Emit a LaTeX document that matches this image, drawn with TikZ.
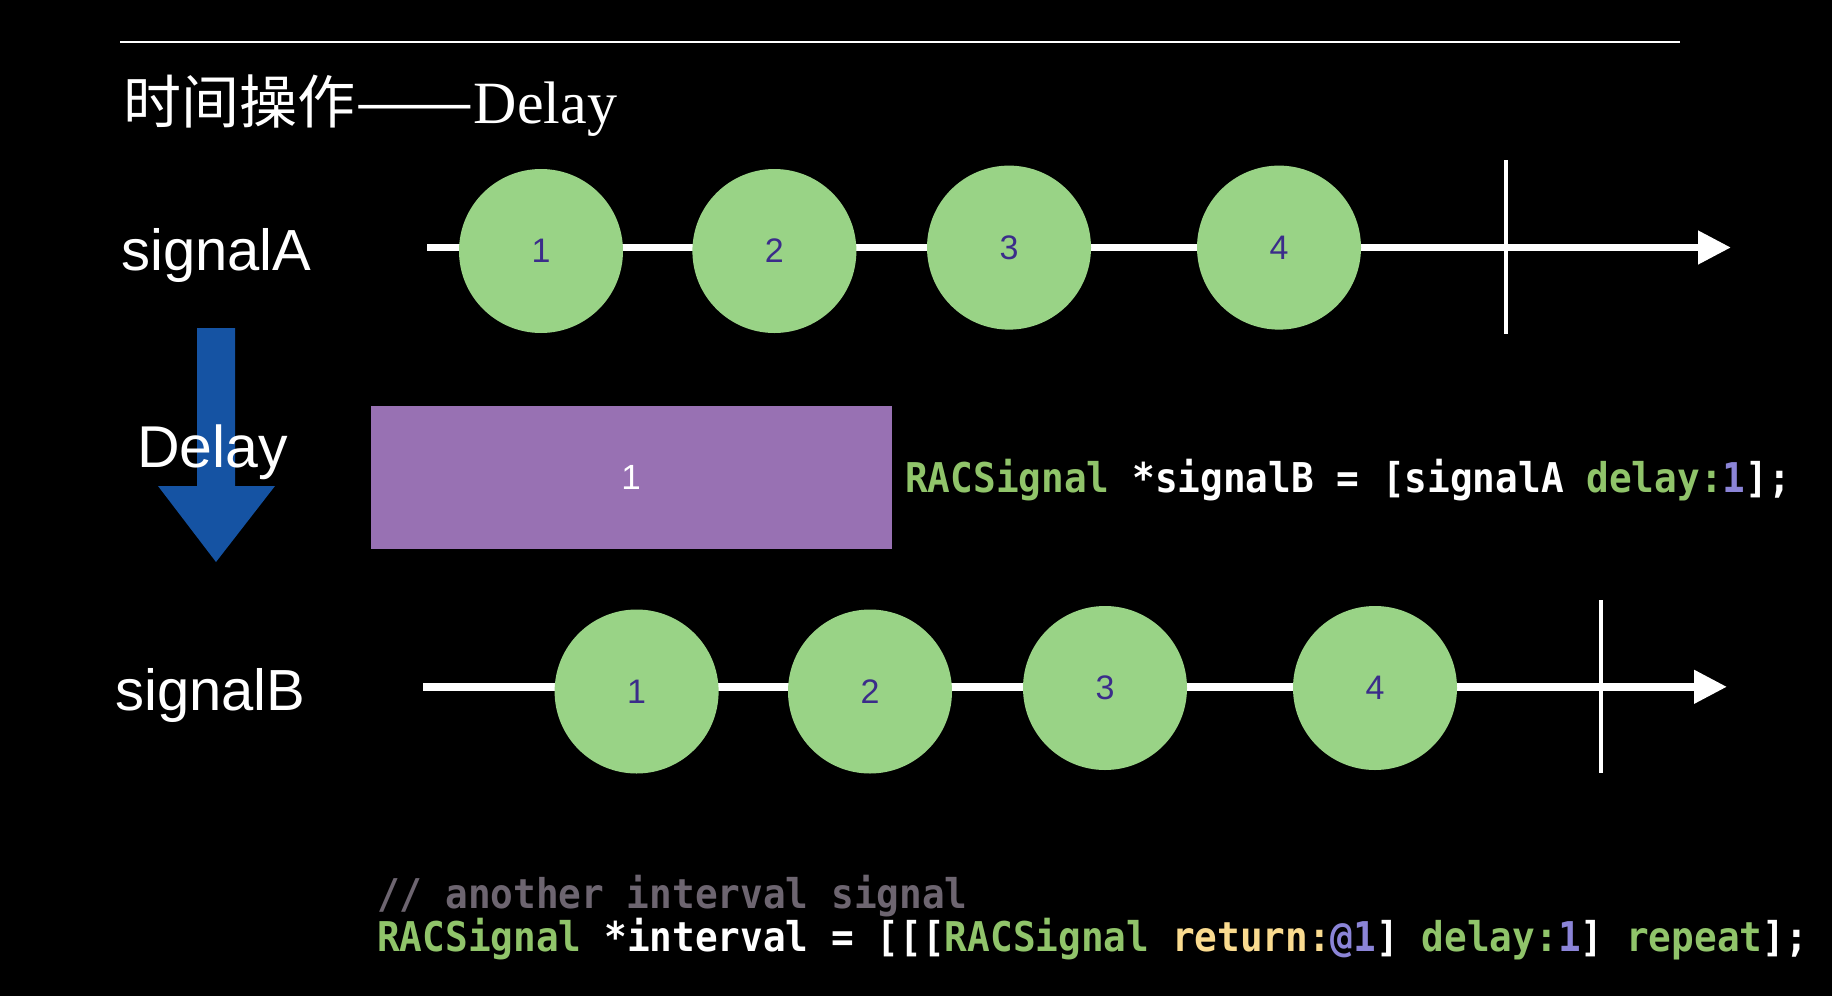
\documentclass[tikz,border=0pt]{standalone}
\usepackage{fontspec}
\setmainfont{Liberation Sans}
\newfontfamily\cjkfont{Noto Sans CJK SC}
\newfontfamily\serifont{Liberation Serif}
\newfontfamily\codefont[FakeStretch=0.92]{DejaVu Sans Mono}
\usetikzlibrary{arrows.meta}
\definecolor{bubble}{HTML}{99D386}
\definecolor{numc}{HTML}{3B2C8A}
\definecolor{delaybox}{HTML}{9871B3}
\definecolor{arrowblue}{HTML}{1553A3}
\definecolor{cgreen}{HTML}{90C46A}
\definecolor{cyellow}{HTML}{FADB8F}
\definecolor{cnum}{HTML}{8B84D7}
\definecolor{cgray}{HTML}{6D6570}
\tikzset{
  bubblenode/.style={circle,fill=bubble,minimum size=164pt,inner sep=0pt,text=numc,font=\fontsize{34}{36}\selectfont},
  timeline/.style={white,line width=7.5pt,-{Triangle[length=33pt,width=32pt]}},
  endbar/.style={white,line width=4.5pt},
  label/.style={text=white,anchor=base west,inner sep=0pt,font=\fontsize{58}{62}\selectfont},
  code/.style={text=white,anchor=base west,inner sep=0pt,font=\codefont\bfseries\fontsize{41}{45}\selectfont},
}
\begin{document}
\begin{tikzpicture}[x=1pt,y=-1pt]
\fill[black] (0,0) rectangle (1832,996);
\useasboundingbox (0,0) rectangle (1832,996);
% top rule
\coordinate (r1) at (120,42);
\coordinate (r2) at (1680,42);
\draw[white,line width=2.5pt] (r1) -- (r2);
% title
\node[anchor=base west,inner sep=0pt,text=white] (title) at (123,123)
  {{\cjkfont\fontsize{58}{62}\selectfont 时间操作\scalebox{1.22}[1]{——}}{\serifont\fontsize{60}{62}\selectfont Delay}};
% signal A
\node[label] (labA) at (121,270) {signalA};
\coordinate (aS) at (427,247.5);
\coordinate (aE) at (1731,247.5);
\draw[timeline] (aS) -- (aE);
\coordinate (barAt) at (1506,160);
\coordinate (barAb) at (1506,334);
\draw[endbar] (barAt) -- (barAb);
\node[bubblenode] (a1) at (541,251) {1};
\node[bubblenode] (a2) at (774.4,251) {2};
\node[bubblenode] (a3) at (1009,247.6) {3};
\node[bubblenode] (a4) at (1279,247.6) {4};
% delay arrow
\fill[arrowblue] (197,328) -- (235,328) -- (235,486) -- (275,486) -- (216,562) -- (158,486) -- (197,486) -- cycle;
\node[label,font=\fontsize{59}{62}\selectfont] (delayLab) at (137,467) {Delay};
% delay box
\node[fill=delaybox,minimum width=521pt,minimum height=143pt,inner sep=0pt,text=white,font=\fontsize{35}{37}\selectfont] (box) at (631,477.4) {1};
\node[code] (code1) at (905,492) {\textcolor{cgreen}{RACSignal} *signalB = [signalA \textcolor{cgreen}{delay:}\textcolor{cnum}{1}];};
% signal B
\node[label] (labB) at (115,710) {signalB};
\coordinate (bS) at (423,686.8);
\coordinate (bE) at (1727,686.8);
\draw[timeline] (bS) -- (bE);
\coordinate (barBt) at (1601,600);
\coordinate (barBb) at (1601,773);
\draw[endbar] (barBt) -- (barBb);
\node[bubblenode] (b1) at (636.6,691.5) {1};
\node[bubblenode] (b2) at (870,691.5) {2};
\node[bubblenode] (b3) at (1105,688) {3};
\node[bubblenode] (b4) at (1375,688) {4};
% bottom code
\node[code,text=cgray] (code2) at (377,908) {// another interval signal};
\node[code] (code3) at (377,951) {\textcolor{cgreen}{RACSignal} *interval = [[[\textcolor{cgreen}{RACSignal} \textcolor{cyellow}{return:}\textcolor{cnum}{@1}] \textcolor{cgreen}{delay:}\textcolor{cnum}{1}] \textcolor{cgreen}{repeat}];};
\end{tikzpicture}
\end{document}
